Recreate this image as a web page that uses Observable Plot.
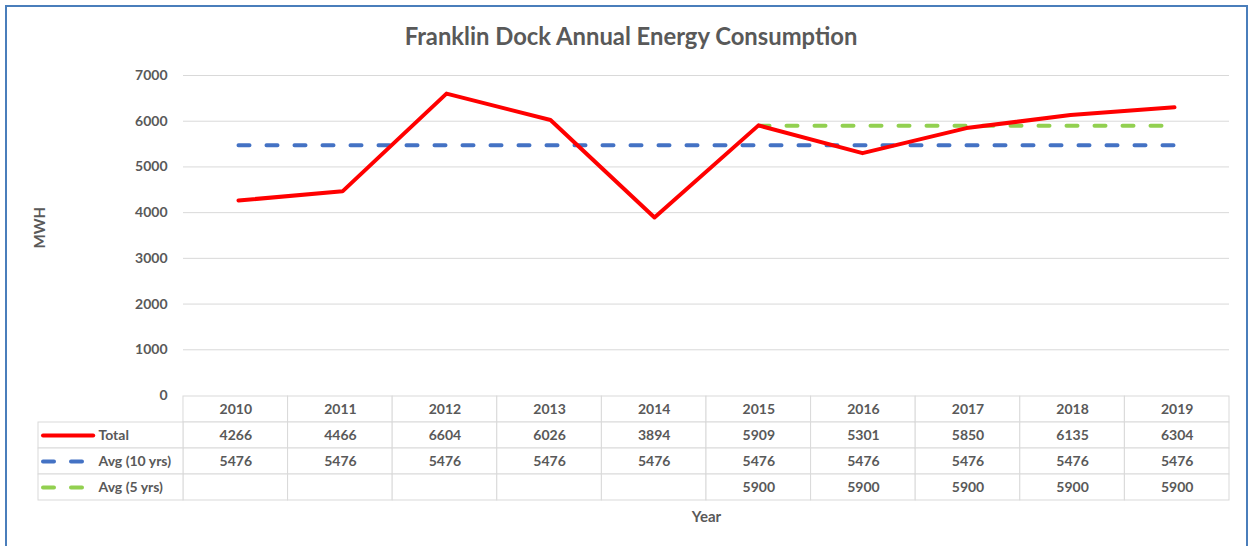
<!DOCTYPE html>
<html>
<head>
<meta charset="utf-8">
<script src="https://cdn.jsdelivr.net/npm/d3@7"></script>
<script src="https://cdn.jsdelivr.net/npm/@observablehq/plot@0.6"></script>
<style>
  html, body { margin: 0; padding: 0; background: #fff; }
  #wrap { position: relative; width: 1254px; height: 546px; overflow: hidden; font-family: Lato, "Open Sans", sans-serif; }
  #frame { position: absolute; left: 5px; top: 5px; width: 1243px; height: 560px; border: 2px solid #4a7ebb; box-sizing: border-box; }
  #title { position: absolute; left: 0; top: 22px; width: 1262px; text-align: center; font: bold 23.8px Lato, sans-serif; color: #595959; }
  #main { position: absolute; left: 0; top: 0; }
  #table { position: absolute; left: 0; top: 394px; }
  svg { overflow: visible; }
</style>
</head>
<body>
<div id="wrap">
  <div id="frame"></div>
  <div id="table"></div>
  <div id="main"></div>
  <div id="title">Franklin Dock Annual Energy Consumption</div>
</div>
<script>
// ---- data ----
const years = ["2010", "2011", "2012", "2013", "2014", "2015", "2016", "2017", "2018", "2019"];
const total = [4266, 4466, 6604, 6026, 3894, 5909, 5301, 5850, 6135, 6304];
const avg10 = [5476, 5476, 5476, 5476, 5476, 5476, 5476, 5476, 5476, 5476];
const avg5 = [null, null, null, null, null, 5900, 5900, 5900, 5900, 5900];
const yTicks = [0, 1000, 2000, 3000, 4000, 5000, 6000, 7000];
const seriesNames = ["Total", "Avg (10 yrs)", "Avg (5 yrs)"];
const seriesValues = [total, avg10, avg5];

// ---- styles ----
const colors = ["#ff0000", "#4472c4", "#92d050"];
const dashes = [null, "11,17", "11,17"];
const textColor = "#595959";
const gridColor = "#d9d9d9";
const font = "Lato, 'Open Sans', sans-serif";

// ---- main chart ----
const main = Plot.plot({
  width: 1254, height: 410,
  marginLeft: 183, marginRight: 25, marginTop: 75, marginBottom: 15,
  style: { fontFamily: font, background: "transparent" },
  x: { type: "point", domain: years, padding: 0.5, axis: null },
  y: { domain: [0, 7000], axis: null },
  marks: [
    Plot.gridY(yTicks.slice(1), { stroke: gridColor, strokeOpacity: 1 }),
    Plot.axisY(yTicks, {
      tickSize: 0, tickPadding: 16, fontSize: 14, fontWeight: "bold", fill: textColor,
      tickFormat: d => String(d), label: null
    }),
    Plot.text(["MWH"], {
      frameAnchor: "left", dx: -143, dy: 13, rotate: -90, text: d => d,
      fill: textColor, fontSize: 15, fontWeight: "bold"
    }),
    Plot.lineY(avg10, { x: years, stroke: colors[1], strokeWidth: 4, strokeDasharray: dashes[1], strokeLinecap: "round" }),
    Plot.lineY(avg5, { x: years, stroke: colors[2], strokeWidth: 4, strokeDasharray: dashes[2], strokeLinecap: "round" }),
    Plot.lineY(total, { x: years, stroke: colors[0], strokeWidth: 4, strokeLinejoin: "round", strokeLinecap: "round" })
  ]
});
document.getElementById("main").appendChild(main);

// ---- data table ----
const legendCol = 1.386;   // legend column width, in year-column units
const swatchLen = 0.48;
const cells = [];
years.forEach((yr, i) => {
  cells.push({ row: "", x1: i, x2: i + 1, text: yr });
  seriesNames.forEach((s, k) => {
    const v = seriesValues[k][i];
    cells.push({ row: s, x1: i, x2: i + 1, text: v == null ? "" : String(v) });
  });
});
const legendCells = seriesNames.map(s => ({ row: s, x1: -legendCol, x2: 0 }));

const table = Plot.plot({
  width: 1254, height: 152,
  marginLeft: 38, marginRight: 25, marginTop: 1, marginBottom: 46,
  style: { fontFamily: font, background: "transparent" },
  x: { type: "linear", domain: [-legendCol, years.length], axis: null },
  y: { type: "band", domain: ["", ...seriesNames], paddingInner: 0, paddingOuter: 0, axis: null },
  marks: [
    Plot.barX(cells.concat(legendCells), { x1: "x1", x2: "x2", y: "row", fill: "white", stroke: gridColor, strokeWidth: 1 }),
    Plot.text(cells, { x: d => (d.x1 + d.x2) / 2, y: "row", text: "text", fill: textColor, fontSize: 14, fontWeight: "bold" }),
    Plot.text(seriesNames, { x: -legendCol, y: d => d, text: d => d, dx: 60, textAnchor: "start", fill: textColor, fontSize: 14, fontWeight: "bold" }),
    ...seriesNames.map((s, k) => Plot.ruleY([s], {
      y: d => d, x1: -legendCol, x2: -legendCol + swatchLen, dx: 5,
      stroke: colors[k], strokeWidth: 4, strokeDasharray: dashes[k], strokeLinecap: "round"
    })),
    Plot.text(["Year"], { x: years.length / 2, frameAnchor: "bottom", dy: 21, text: d => d, fill: textColor, fontSize: 15, fontWeight: "bold" })
  ]
});
document.getElementById("table").appendChild(table);
</script>
</body>
</html>
